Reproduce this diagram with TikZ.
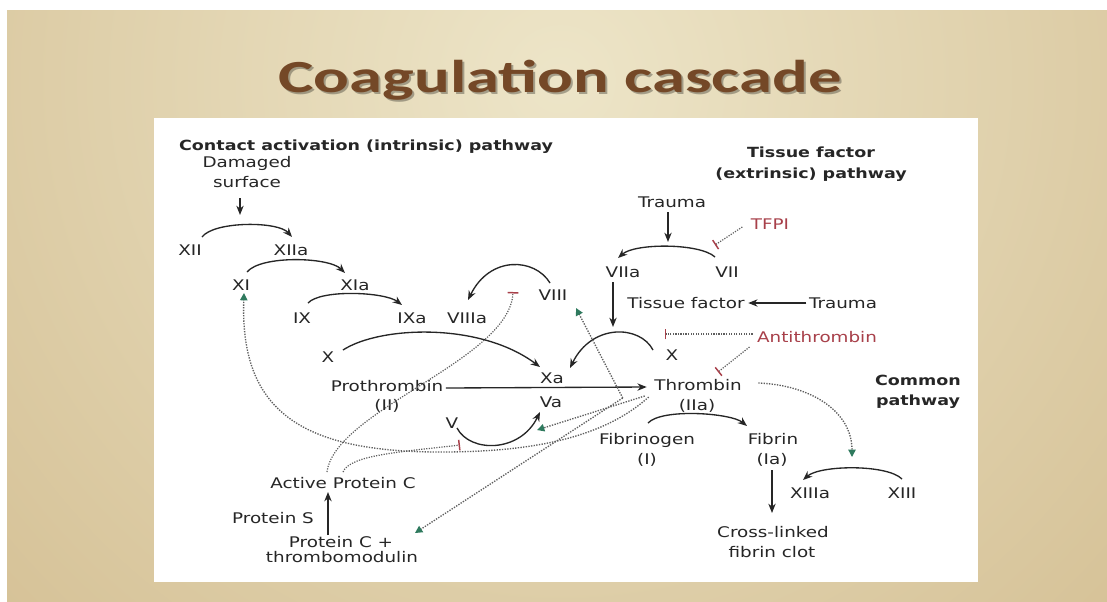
\documentclass[tikz,border=0pt]{standalone}
\usepackage{fontspec}
\setmainfont{DejaVu Sans}[FakeStretch=1.25]
\newfontfamily\titlefont{Carlito}[FakeStretch=1.45]
\usepackage{xcolor}
\usepackage{tikz}
\usetikzlibrary{
  positioning,
  calc,
  arrows.meta
}

\definecolor{bgdark}{HTML}{C6AA76}
\definecolor{bglight}{HTML}{EDE5C8}
\definecolor{titlebrown}{HTML}{744827}
\definecolor{inhred}{HTML}{A8404A}
\definecolor{actgreen}{HTML}{2F7A5E}
\definecolor{dotgray}{HTML}{5E5E5E}

\tikzset{
  fac/.style={anchor=base, inner sep=1pt, text=black!85, font=\fontsize{11}{13}\selectfont},
  head/.style={anchor=base, inner sep=1pt, text=black!85, font=\fontsize{10.5}{13}\selectfont\bfseries},
  inh/.style={fac, text=inhred},
  conv/.style={-{Stealth[length=7pt,width=5.5pt]}, line width=1pt, black!85},
  act/.style={-{Triangle[length=5.5pt,width=5.5pt,color=actgreen]}, densely dotted, line width=1pt, dotgray},
  block/.style={-{Bar[width=8pt,line width=1.1pt,color=inhred]}, densely dotted, line width=0.9pt, dotgray}
}

\begin{document}
\begin{tikzpicture}[x=0.75pt,y=-0.75pt]
  \useasboundingbox (0,0) rectangle (1107,601);
  % 背景とパネル
  \fill[white] (0,0) rectangle (1107,601);
  \begin{scope}
    \clip (7,10) rectangle (1107,601);
    \fill[bgdark] (7,10) rectangle (1107,601);
    \shade[inner color=bglight, outer color=bgdark] (560,80) circle (1300);
  \end{scope}
  \fill[white] (154,118) rectangle (978,582);

  % タイトル
  \node[anchor=base, text=black, opacity=0.3, font=\titlefont\fontsize{34.5}{40}\selectfont\bfseries]
    (titleshadow) at (562,94) {Coagulation cascade};
  \node[anchor=base, text=titlebrown, font=\titlefont\fontsize{34.5}{40}\selectfont\bfseries]
    (title) at (560,92) {Coagulation cascade};

  % 見出し
  \node[head] (intr) at (366,150) {Contact activation (intrinsic) pathway};
  \node[head] (extra) at (811,157) {Tissue factor};
  \node[head] (extrb) at (811,178) {(extrinsic) pathway};
  \node[head] (comma) at (918,385) {Common};
  \node[head] (commb) at (918,405) {pathway};

  % 因子のラベル
  \foreach \n/\t/\x/\y in {
    dmg/Damaged/247/167, surf/surface/247/187,
    xii/XII/190/255, xiia/XIIa/291/255,
    xi/XI/241/290, xia/XIa/355/290,
    ix/IX/302/323, ixa/IXa/412/323, viiia/VIIIa/467/323, viii/VIII/553/300,
    xl/X/328/362, xa/Xa/552/383, va/Va/551/407, v/V/452/428,
    pro/Prothrombin/387/391, proii/(II)/387/410,
    thr/Thrombin/698/390, thrii/(IIa)/697/410,
    fbg/Fibrinogen/647/444, fbgi/(I)/647/464,
    fbn/Fibrin/773/444, fbni/(Ia)/772/464,
    tra/Trauma/672/207, viia/VIIa/623/277, vii/VII/727/277,
    tf/Tissue factor/686/308, trb/Trauma/843/308, xr/X/672/360,
    xiiia/XIIIa/810/498, xiii/XIII/902/498,
    clot/Cross-linked/773/537, clotb/fibrin clot/772/557,
    apc/Active Protein C/343/488, ps/Protein S/273/523,
    pc/Protein C +/341/547, tm/thrombomodulin/342/562}
  \node[fac] (\n) at (\x,\y) {\t};
  \node[inh] (tfpi) at (770,229) {TFPI};
  \node[inh] (anti) at (817,342) {Antithrombin};

  % 活性化の矢印
  \draw[conv] ($(surf.base)+(-7,11)$) -- ($(xii.base)+(50,-40)$);
  \draw[conv] ($(xii.base)+(12,-18)$) .. controls +(12,-16) and +(-14,-16) .. ($(xiia.base)+(1,-18)$);
  \draw[conv] ($(xi.base)+(6,-18)$) .. controls +(14,-17) and +(-16,-16) .. ($(xia.base)+(-10,-17)$);
  \draw[conv] ($(ix.base)+(6,-20)$) .. controls +(13,-14) and +(-17,-13) .. ($(ixa.base)+(-10,-18)$);
  \draw[conv] ($(viii.base)+(-3,-17)$) .. controls +(-15,-25) and +(22,-45) .. ($(viiia.base)+(1,-23)$);
  \draw[conv] ($(xl.base)+(15,-12)$) .. controls +(37,-24) and +(-60,-45) .. ($(xa.base)+(-12,-16)$);
  \draw[conv] ($(xr.base)+(-19,-10)$) .. controls +(-13,-25) and +(22,-45) .. ($(xa.base)+(18,-15)$);
  \draw[conv] ($(v.base)+(5,0)$) .. controls +(13,25) and +(-20,41) .. ($(va.base)+(-11,5)$);
  \draw[conv] ($(vii.base)+(-12,-20)$) .. controls +(-15,-14) and +(17,-15) .. ($(viia.base)+(-5,-19)$);
  \draw[conv] ($(fbg.base)+(1,-21)$) .. controls +(14,-15) and +(-16,-13) .. ($(fbn.base)+(-26,-18)$);
  \draw[conv] ($(xiii.base)+(0,-19)$) .. controls +(-15,-15) and +(17,-15) .. ($(xiiia.base)+(-7,-18)$);
  \draw[conv] ($(pro.base east)+(1,-3)$) -- ($(thr.base west)+(-6,-3)$);
  \draw[conv] ($(tra.base)+(-4,5)$) -- ($(vii.base)+(-59,-35)$);
  \draw[conv] ($(viia.base)+(-10,5)$) -- ($(xr.base)+(-59,-33)$);
  \draw[conv] ($(trb.base west)+(-1,-5)$) -- ($(tf.base east)+(2,-5)$);
  \draw[conv] ($(fbni.base)+(0,6)$) -- ($(clot.base)+(-1,-24)$);
  \draw[conv] ($(pc.base)+(-13,-12)$) -- ($(apc.base)+(-15,4)$);

  % 阻害
  \draw[block] ($(tfpi.base west)+(-7,-2)$) -- ($(vii.base)+(-12,-32)$);
  \draw[block] ($(anti.base west)+(-3,-8)$) -- ($(xr.base)+(-7,-26)$);
  \draw[block] ($(anti.base west)+(-6,5)$) -- ($(thr.base)+(20,-18)$);
  \draw[block] ($(apc.base)+(-16,-16)$) .. controls +(8,-62) and +(-3,68) .. ($(viii.base)+(-40,-8)$);
  \draw[block] ($(apc.base)+(0,-16)$) .. controls +(7,-17) and +(-60,7) .. ($(v.base)+(8,17)$);

  % トロンビンからの正のフィードバック
  \draw[act] ($(thr.base west)+(-4,7)$) .. controls +(-50,45) and +(80,0) .. ($(v.base)+(-12,24)$)
    .. controls +(-140,0) and +(-4,117) .. ($(xi.base)+(3,3)$);
  \draw[act] ($(thr.base west)+(-8,6)$) -- ($(va.base)+(-14,23)$);
  \draw[act] ($(thr.base west)+(-30,8)$) -- ($(viii.base)+(23,8)$);
  \draw[act] ($(thr.base west)+(-30,8)$) -- ($(pc.base)+(74,-14)$);
  \draw[act] ($(thr.base east)+(15,-7)$) .. controls +(52,2) and +(0,-46) .. ($(xiiia.base)+(42,-41)$);
\end{tikzpicture}
\end{document}
